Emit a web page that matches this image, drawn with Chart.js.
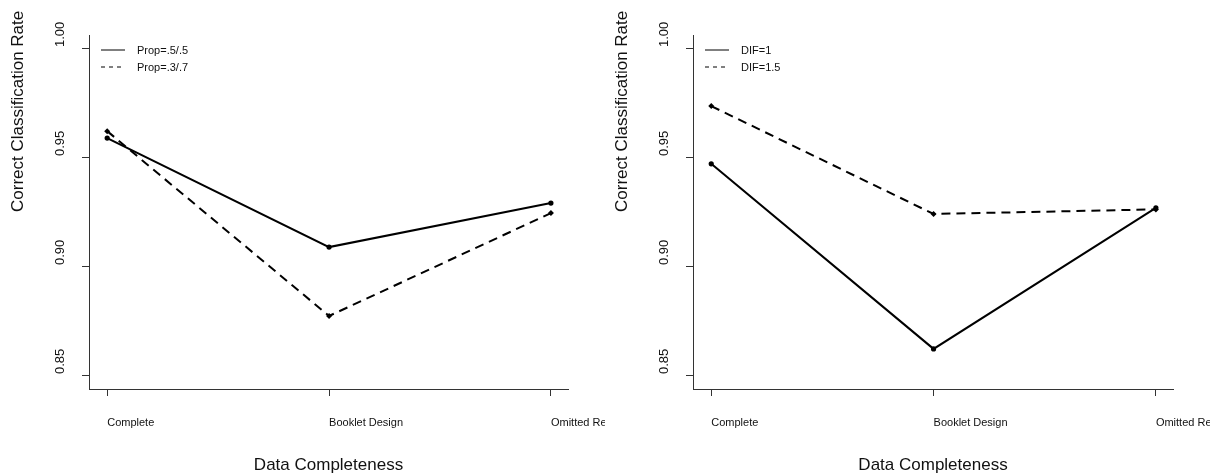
<!DOCTYPE html>
<html>
<head>
<meta charset="utf-8">
<script src="https://cdn.jsdelivr.net/npm/chart.js@4.4.1/dist/chart.umd.min.js"></script>
<style>
    html, body { margin: 0; padding: 0; background: #fff; }
    #wrap { position: relative; width: 1220px; height: 474px; overflow: hidden; }
    .panel { position: absolute; top: 0; height: 474px; overflow: hidden; }
    #left-panel { left: 0; width: 605px; }
    #right-panel { left: 604px; width: 606px; }
</style>
</head>
<body>
<div id="wrap">
    <div class="panel" id="left-panel"><canvas id="left-chart" width="605" height="474"></canvas></div>
    <div class="panel" id="right-panel"><canvas id="right-chart" width="606" height="474"></canvas></div>
</div>
<script>
const categories = ['Complete', 'Booklet Design', 'Omitted Responses'];
const yTicks = [0.85, 0.90, 0.95, 1.00];

const leftSolidLabel = 'Prop=.5/.5';
const leftDashedLabel = 'Prop=.3/.7';
const leftSolid = [0.9587, 0.9087, 0.9289];
const leftDashed = [0.9619, 0.8771, 0.9243];

const rightSolidLabel = 'DIF=1';
const rightDashedLabel = 'DIF=1.5';
const rightSolid = [0.9469, 0.8620, 0.9267];
const rightDashed = [0.9734, 0.9239, 0.9260];

const FONT = '"Liberation Sans", Arial, Helvetica, sans-serif';

const toPoints = values => values.map((v, i) => ({ x: i, y: v }));

// R-style text: labels start at their tick (both axes), titles, legend
const rTextPlugin = {
    id: 'rText',
    afterDraw(chart) {
        const { ctx, chartArea, scales } = chart;
        const opts = chart.options.plugins.rText;
        ctx.save();
        ctx.fillStyle = '#111';

        ctx.font = `13px ${FONT}`;
        ctx.textAlign = 'left';
        ctx.textBaseline = 'middle';
        yTicks.forEach(t => {
            ctx.save();
            ctx.translate(60, scales.y.getPixelForValue(t) - 1);
            ctx.rotate(-Math.PI / 2);
            ctx.fillText(t.toFixed(2), 0, 0);
            ctx.restore();
        });

        ctx.font = `11px ${FONT}`;
        categories.forEach((c, i) => {
            ctx.fillText(c, scales.x.getPixelForValue(i), 423);
        });

        ctx.font = `17px ${FONT}`;
        ctx.textAlign = 'center';
        ctx.fillText('Data Completeness', (chartArea.left + chartArea.right) / 2, 465);

        ctx.save();
        ctx.translate(18, 212);
        ctx.rotate(-Math.PI / 2);
        ctx.textAlign = 'left';
        ctx.fillText('Correct Classification Rate', 0, 0);
        ctx.restore();

        // legend
        ctx.font = `11px ${FONT}`;
        ctx.textAlign = 'left';
        ctx.strokeStyle = '#000';
        ctx.lineWidth = 1;
        opts.legend.forEach((item, i) => {
            const y = 50 + i * 17;
            ctx.setLineDash(item.dash);
            ctx.beginPath();
            ctx.moveTo(chartArea.left + 12, y);
            ctx.lineTo(chartArea.left + 36, y);
            ctx.stroke();
            ctx.fillText(item.label, chartArea.left + 48, y + 1);
        });
        ctx.restore();
    }
};

const makeChart = (id, solid, dashed, solidLabel, dashedLabel) => {
    new Chart(document.getElementById(id), {
        type: 'scatter',
        data: {
            datasets: [{
                label: solidLabel,
                data: toPoints(solid),
                showLine: true,
                borderColor: '#000',
                backgroundColor: '#000',
                borderWidth: 2,
                pointStyle: 'circle',
                pointRadius: 2.6,
                pointBorderWidth: 0
            }, {
                label: dashedLabel,
                data: toPoints(dashed),
                showLine: true,
                borderColor: '#000',
                backgroundColor: '#000',
                borderWidth: 2,
                borderDash: [9, 6],
                pointStyle: 'rectRot',
                pointRadius: 3,
                pointBorderWidth: 0
            }]
        },
        options: {
            responsive: false,
            animation: false,
            layout: { padding: { top: 35, right: 37, left: 0, bottom: 0 } },
            plugins: {
                legend: { display: false },
                tooltip: { enabled: false },
                rText: {
                    legend: [
                        { label: solidLabel, dash: [] },
                        { label: dashedLabel, dash: [4, 4] }
                    ]
                }
            },
            scales: {
                x: {
                    type: 'linear',
                    min: -0.082,
                    max: 2.077,
                    afterBuildTicks: s => { s.ticks = categories.map((c, i) => ({ value: i })); },
                    afterFit: s => { s.height = 85; },
                    ticks: { display: false },
                    grid: { drawOnChartArea: false, drawTicks: true, tickLength: 7, color: '#333' },
                    border: { color: '#333', width: 1 }
                },
                y: {
                    min: 0.8436,
                    max: 1.006,
                    afterBuildTicks: s => { s.ticks = yTicks.map(v => ({ value: v })); },
                    afterFit: s => { s.width = 89; },
                    ticks: { display: false },
                    grid: { drawOnChartArea: false, drawTicks: true, tickLength: 7, color: '#333' },
                    border: { color: '#333', width: 1 }
                }
            }
        },
        plugins: [rTextPlugin]
    });
};

makeChart('left-chart', leftSolid, leftDashed, leftSolidLabel, leftDashedLabel);
makeChart('right-chart', rightSolid, rightDashed, rightSolidLabel, rightDashedLabel);
</script>
</body>
</html>
